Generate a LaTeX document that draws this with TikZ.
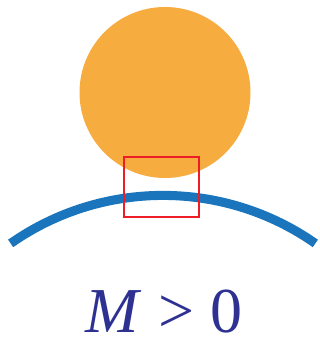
\documentclass[tikz,border=0pt]{standalone}
\usepackage{fontspec}
\setmainfont{Liberation Serif}
\usepackage{tikz}

\definecolor{sunorange}{HTML}{F7AC40}
\definecolor{arcblue}{HTML}{1B75BC}
\definecolor{boxred}{HTML}{EE1C25}
\definecolor{labelblue}{HTML}{2E3192}

\begin{document}
\begin{tikzpicture}[x=0.75pt,y=0.75pt,
    ball/.style={fill=sunorange},
    ground/.style={draw=arcblue,line width=6.8pt},
    zoombox/.style={draw=boxred,line width=1.5pt},
    caption/.style={text=labelblue,font=\fontsize{48}{52}\selectfont,inner sep=0pt}]
    \useasboundingbox (0,0) rectangle (320,338);

    % --- 1. mass ---
    \coordinate (S) at (165,245.5);
    \fill[ball] (S) circle (85.5);

    % --- 2. curved surface ---
    \coordinate (G) at (163,-123);
    \draw[ground] (G) ++(125:265.6) arc (125:55:265.6);

    % --- 3. zoom window ---
    \coordinate (B1) at (124,121);
    \coordinate (B2) at (199,181);
    \draw[zoombox] (B1) rectangle (B2);

    % --- 4. label ---
    \node[caption,anchor=base] (lbl) at (164,5.5) {\textit{M} > 0};
\end{tikzpicture}
\end{document}
